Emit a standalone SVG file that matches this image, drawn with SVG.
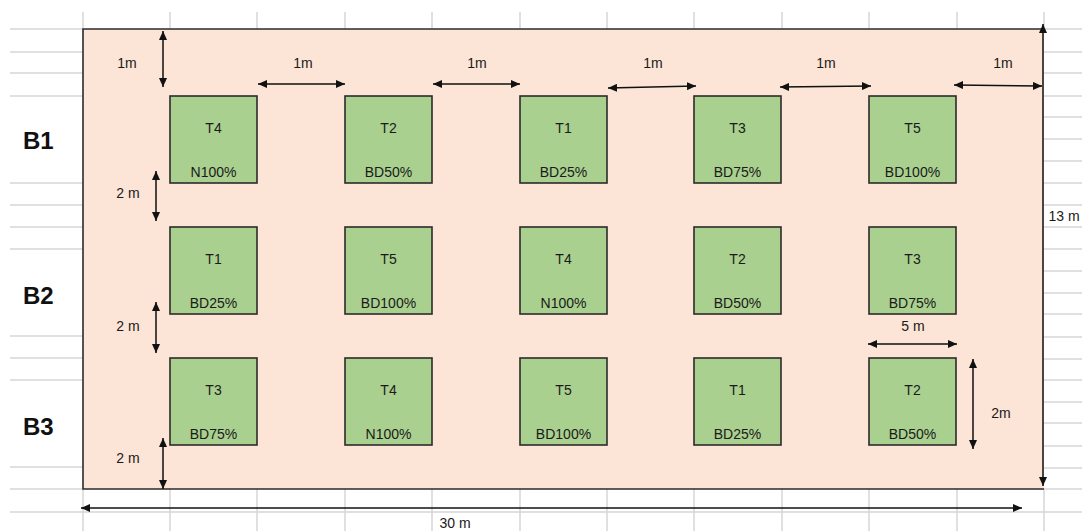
<svg xmlns="http://www.w3.org/2000/svg" width="1082" height="531" viewBox="0 0 1082 531">
<style>
.grid{stroke:#d6d6d6;stroke-width:1.5;fill:none}
.plot{fill:#a9d08e;stroke:#2b2b2b;stroke-width:1.6}
.t{font-family:"Liberation Sans",Arial,sans-serif;font-size:14px;fill:#1a1a1a;text-anchor:middle}
.b{font-family:"Liberation Sans",Arial,sans-serif;font-size:24px;font-weight:bold;fill:#111}
.arr{stroke:#111;stroke-width:1.5;fill:none;marker-start:url(#ah);marker-end:url(#ah)}
.arr1{stroke:#111;stroke-width:1.5;fill:none;marker-end:url(#ah)}
</style>
<defs>
<marker id="ah" markerUnits="userSpaceOnUse" markerWidth="9" markerHeight="8" refX="9" refY="4" orient="auto-start-reverse">
<path d="M0,0 L9,4 L0,8 z" fill="#111"/>
</marker>
</defs>
<rect width="1082" height="531" fill="#ffffff"/>
<g id="gridlines">
<path class="grid" d="M83,12V29 M170,12V29 M257,12V29 M345,12V29 M432,12V29 M520,12V29 M607,12V29 M694,12V29 M782,12V29 M869,12V29 M957,12V29 M1044,12V29"/>
<path class="grid" d="M83,489V531 M170,489V531 M257,489V531 M345,489V531 M432,489V531 M520,489V531 M607,489V531 M694,489V531 M782,489V531 M869,489V531 M957,489V531 M1044,489V531"/>
<path class="grid" d="M10,29H83 M10,52H83 M10,73H83 M10,96H83 M10,183H83 M10,205H83 M10,227H83 M10,249H83 M10,336H83 M10,358H83 M10,380H83 M10,467H83 M10,489H83 M10,512H1082"/>
<path class="grid" d="M1044,29H1082 M1044,52H1082 M1044,73H1082 M1044,96H1082 M1044,117H1082 M1044,139H1082 M1044,161H1082 M1044,183H1082 M1044,205H1082 M1044,227H1082 M1044,249H1082 M1044,271H1082 M1044,293H1082 M1044,314H1082 M1044,337H1082 M1044,359H1082 M1044,380H1082 M1044,402H1082 M1044,423H1082 M1044,446H1082 M1044,468H1082 M1044,489H1082"/>
</g>
<g id="field">
<rect x="83" y="29" width="961" height="460" fill="#fce4d6"/>
<path d="M1044,29H83V489H1044" fill="none" stroke="#2b2b2b" stroke-width="1.6"/>
</g>
<g id="blocks">
<text class="b" x="23" y="149">B1</text>
<text class="b" x="23" y="304">B2</text>
<text class="b" x="23" y="435">B3</text>
</g>
<g id="r1c1"><rect class="plot" x="170" y="96" width="87" height="87"/><text class="t" x="213.5" y="133">T4</text><text class="t" x="213.5" y="177">N100%</text></g>
<g id="r1c2"><rect class="plot" x="345" y="96" width="87" height="87"/><text class="t" x="388.5" y="133">T2</text><text class="t" x="388.5" y="177">BD50%</text></g>
<g id="r1c3"><rect class="plot" x="520" y="96" width="87" height="87"/><text class="t" x="563.5" y="133">T1</text><text class="t" x="563.5" y="177">BD25%</text></g>
<g id="r1c4"><rect class="plot" x="694" y="96" width="87" height="87"/><text class="t" x="737.5" y="133">T3</text><text class="t" x="737.5" y="177">BD75%</text></g>
<g id="r1c5"><rect class="plot" x="869" y="96" width="87" height="87"/><text class="t" x="912.5" y="133">T5</text><text class="t" x="912.5" y="177">BD100%</text></g>
<g id="r2c1"><rect class="plot" x="170" y="227" width="87" height="87"/><text class="t" x="213.5" y="264">T1</text><text class="t" x="213.5" y="308">BD25%</text></g>
<g id="r2c2"><rect class="plot" x="345" y="227" width="87" height="87"/><text class="t" x="388.5" y="264">T5</text><text class="t" x="388.5" y="308">BD100%</text></g>
<g id="r2c3"><rect class="plot" x="520" y="227" width="87" height="87"/><text class="t" x="563.5" y="264">T4</text><text class="t" x="563.5" y="308">N100%</text></g>
<g id="r2c4"><rect class="plot" x="694" y="227" width="87" height="87"/><text class="t" x="737.5" y="264">T2</text><text class="t" x="737.5" y="308">BD50%</text></g>
<g id="r2c5"><rect class="plot" x="869" y="227" width="87" height="87"/><text class="t" x="912.5" y="264">T3</text><text class="t" x="912.5" y="308">BD75%</text></g>
<g id="r3c1"><rect class="plot" x="170" y="358" width="87" height="87"/><text class="t" x="213.5" y="395">T3</text><text class="t" x="213.5" y="439">BD75%</text></g>
<g id="r3c2"><rect class="plot" x="345" y="358" width="87" height="87"/><text class="t" x="388.5" y="395">T4</text><text class="t" x="388.5" y="439">N100%</text></g>
<g id="r3c3"><rect class="plot" x="520" y="358" width="87" height="87"/><text class="t" x="563.5" y="395">T5</text><text class="t" x="563.5" y="439">BD100%</text></g>
<g id="r3c4"><rect class="plot" x="694" y="358" width="87" height="87"/><text class="t" x="737.5" y="395">T1</text><text class="t" x="737.5" y="439">BD25%</text></g>
<g id="r3c5"><rect class="plot" x="869" y="358" width="87" height="87"/><text class="t" x="912.5" y="395">T2</text><text class="t" x="912.5" y="439">BD50%</text></g>
<g id="connectors">
<line class="arr" x1="163" y1="31" x2="163" y2="87"/>
<line class="arr" x1="258" y1="84" x2="345" y2="84"/>
<line class="arr" x1="433" y1="84" x2="520" y2="84"/>
<line class="arr" x1="608" y1="88" x2="696" y2="86"/>
<line class="arr" x1="780" y1="87" x2="871" y2="86"/>
<line class="arr" x1="954" y1="85" x2="1042" y2="86"/>
<line class="arr" x1="156" y1="171" x2="156" y2="221"/>
<line class="arr" x1="156" y1="302" x2="156" y2="353"/>
<line class="arr" x1="163" y1="438" x2="163" y2="489"/>
<line class="arr" x1="868" y1="344" x2="957" y2="344"/>
<line class="arr" x1="973" y1="359" x2="973" y2="449"/>
<line class="arr" x1="1043" y1="24" x2="1043" y2="486"/>
<line class="arr" x1="81" y1="508" x2="1022" y2="508"/>
</g>
<g id="labels">
<text class="t" x="127" y="68">1m</text>
<text class="t" x="303" y="68">1m</text>
<text class="t" x="477" y="68">1m</text>
<text class="t" x="653" y="68">1m</text>
<text class="t" x="826" y="68">1m</text>
<text class="t" x="1003" y="68">1m</text>
<text class="t" x="128" y="198">2 m</text>
<text class="t" x="128" y="331">2 m</text>
<text class="t" x="128" y="463">2 m</text>
<text class="t" x="913" y="331">5 m</text>
<text class="t" x="1001" y="418">2m</text>
<text class="t" x="1064" y="221">13 m</text>
<text class="t" x="455" y="528">30 m</text>
</g>
</svg>
